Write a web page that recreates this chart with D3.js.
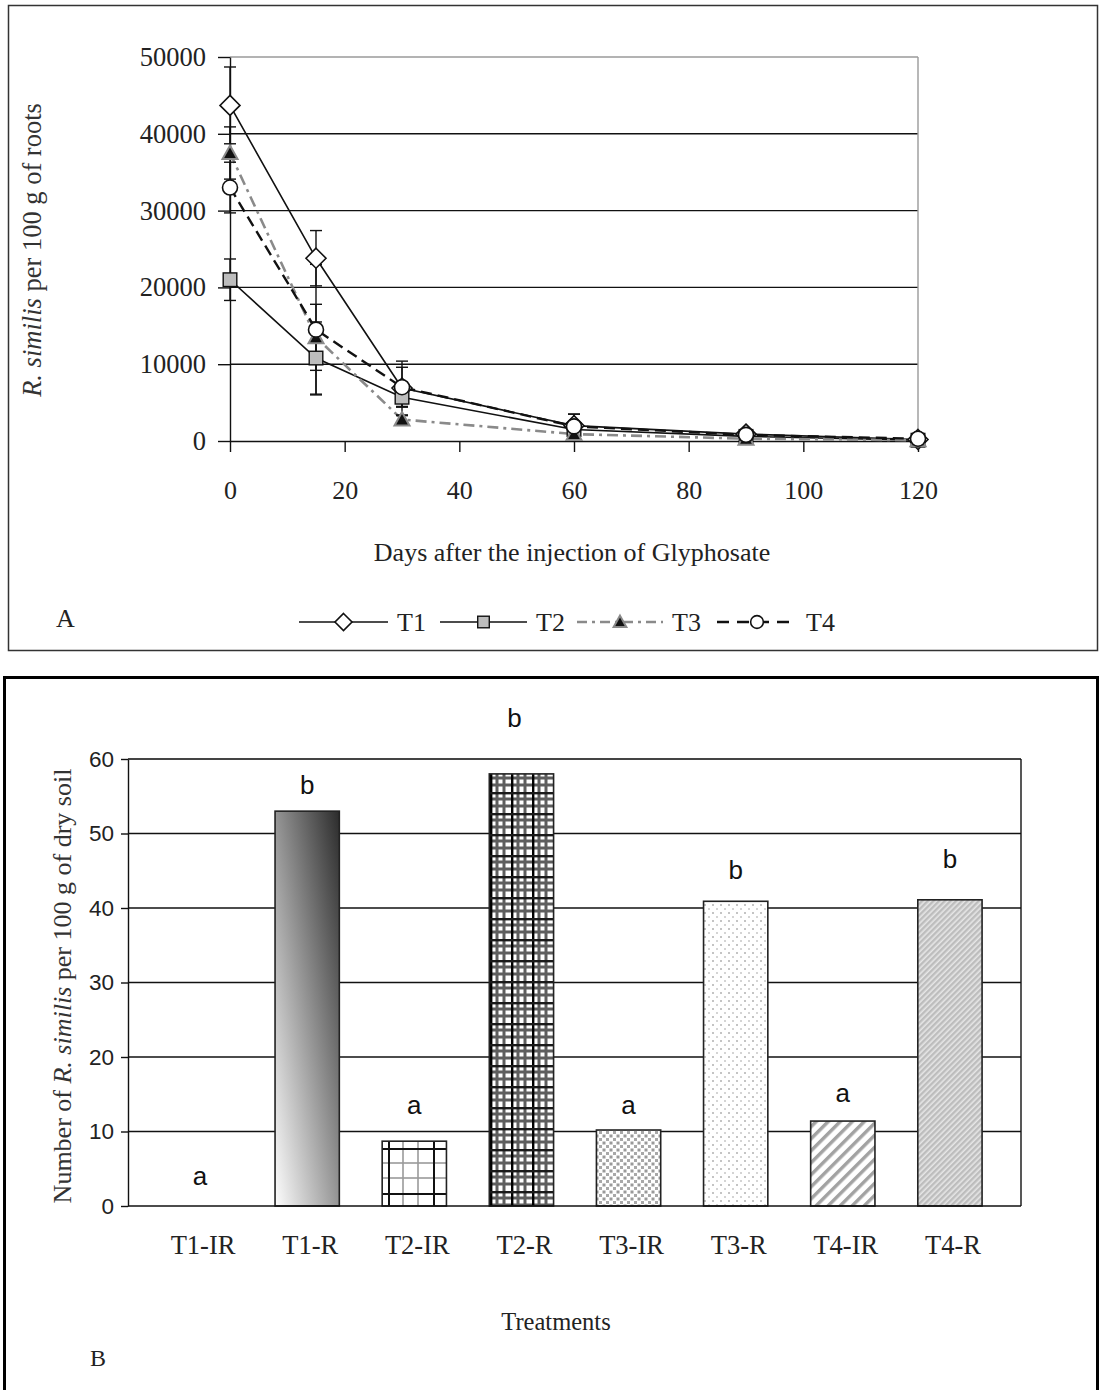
<!DOCTYPE html>
<html><head><meta charset="utf-8">
<script src="https://cdn.jsdelivr.net/npm/d3@7"></script>
<style>body{margin:0;background:#fff} svg{display:block}</style>
</head><body><svg id="c" width="1100" height="1390"></svg>
<script>
// ---------- Panel A data ----------
const days = [0, 15, 30, 60, 90, 120];
const seriesNames = ["T1", "T2", "T3", "T4"];
const t1Values = [43700, 23800, 6900, 2000, 900, 200];
const t2Values = [21000, 10800, 5700, 1500, 600, 100];
const t3Values = [37500, 13500, 2800, 900, 300, 100];
const t4Values = [33000, 14500, 7000, 1900, 800, 300];
const t1Err = [5000, 3600, 3500, 1500, 400, 100];
const t2Err = [2700, 4700, 1200, 500, 300, 100];
const t3Err = [3400, 4300, 500, 300, 200, 50];
const t4Err = [3300, 8500, 2600, 1600, 500, 200];
const yTicksA = [0, 10000, 20000, 30000, 40000, 50000];
const xTicksA = [0, 20, 40, 60, 80, 100, 120];

// ---------- Panel B data ----------
const treatments = ["T1-IR", "T1-R", "T2-IR", "T2-R", "T3-IR", "T3-R", "T4-IR", "T4-R"];
const countsB = [0, 53, 8.7, 58, 10.2, 40.9, 11.4, 41.1];
const sigLetters = ["a", "b", "a", "b", "a", "b", "a", "b"];
const sigLevels = [2.8, 55.3, 12.4, 64.3, 12.4, 43.9, 13.9, 45.4];
const yTicksB = [0, 10, 20, 30, 40, 50, 60];

const svg = d3.select("#c");
const serif = "'Liberation Serif','Times New Roman',serif";
const sans = "'Liberation Sans',Arial,sans-serif";

// ---------- defs: patterns ----------
const defs = svg.append("defs");
const g1 = defs.append("linearGradient").attr("id", "gradT1R")
  .attr("x1", 0).attr("y1", 1).attr("x2", 1).attr("y2", 0);
g1.append("stop").attr("offset", "0%").attr("stop-color", "#fdfdfd");
g1.append("stop").attr("offset", "100%").attr("stop-color", "#2c2c2c");

// T2-IR big grid
let p = defs.append("pattern").attr("id", "pT2IR").attr("patternUnits", "userSpaceOnUse")
  .attr("width", 45).attr("height", 45).attr("x", 388).attr("y", 1148);
p.append("rect").attr("width", 45).attr("height", 45).attr("fill", "#fff");
[15, 30].forEach(v => {
  p.append("rect").attr("x", v - 0.8).attr("y", 0).attr("width", 1.6).attr("height", 45).attr("fill", "#9a9a9a");
  p.append("rect").attr("x", 0).attr("y", v - 0.8).attr("width", 45).attr("height", 1.6).attr("fill", "#9a9a9a");
});
p.append("rect").attr("x", 0).attr("y", 0).attr("width", 2).attr("height", 45).attr("fill", "#111");
p.append("rect").attr("x", 0).attr("y", 0).attr("width", 45).attr("height", 2).attr("fill", "#111");

// T2-R small grid
p = defs.append("pattern").attr("id", "pT2R").attr("patternUnits", "userSpaceOnUse")
  .attr("width", 21).attr("height", 21).attr("x", 490).attr("y", 771);
p.append("rect").attr("width", 21).attr("height", 21).attr("fill", "#fff");
[7, 14].forEach(v => {
  p.append("rect").attr("x", v - 1.5).attr("y", 0).attr("width", 3).attr("height", 21).attr("fill", "#5e5e5e");
  p.append("rect").attr("x", 0).attr("y", v - 1.5).attr("width", 21).attr("height", 3).attr("fill", "#5e5e5e");
});
p.append("rect").attr("x", 0).attr("y", 0).attr("width", 2.4).attr("height", 21).attr("fill", "#000");
p.append("rect").attr("x", 0).attr("y", 0).attr("width", 21).attr("height", 2.4).attr("fill", "#1a1a1a");

// T3-IR dense dots
p = defs.append("pattern").attr("id", "pT3IR").attr("patternUnits", "userSpaceOnUse")
  .attr("width", 7).attr("height", 7);
p.append("rect").attr("width", 7).attr("height", 7).attr("fill", "#fff");
p.append("rect").attr("x", 0.5).attr("y", 0.5).attr("width", 3).attr("height", 3).attr("fill", "#9a9a9a");
p.append("rect").attr("x", 4).attr("y", 4).attr("width", 3).attr("height", 3).attr("fill", "#a8a8a8");

// T3-R sparse light dots
p = defs.append("pattern").attr("id", "pT3R").attr("patternUnits", "userSpaceOnUse")
  .attr("width", 8).attr("height", 8);
p.append("rect").attr("width", 8).attr("height", 8).attr("fill", "#fff");
p.append("rect").attr("x", 0).attr("y", 0).attr("width", 2).attr("height", 2).attr("fill", "#c4c4c4");
p.append("rect").attr("x", 4).attr("y", 4).attr("width", 2).attr("height", 2).attr("fill", "#d4d4d4");

// T4-IR wide diagonal stripes
p = defs.append("pattern").attr("id", "pT4IR").attr("patternUnits", "userSpaceOnUse")
  .attr("width", 8.5).attr("height", 8.5).attr("patternTransform", "rotate(45)");
p.append("rect").attr("width", 8.5).attr("height", 8.5).attr("fill", "#fff");
p.append("rect").attr("x", 0).attr("width", 3.4).attr("height", 8.5).attr("fill", "#a2a2a2");

// T4-R fine diagonal stripes
p = defs.append("pattern").attr("id", "pT4R").attr("patternUnits", "userSpaceOnUse")
  .attr("width", 4).attr("height", 4).attr("patternTransform", "rotate(45)");
p.append("rect").attr("width", 4).attr("height", 4).attr("fill", "#e6e6e6");
p.append("rect").attr("x", 0).attr("width", 2.4).attr("height", 4).attr("fill", "#bdbdbd");

const barFills = ["#fff", "url(#gradT1R)", "url(#pT2IR)", "url(#pT2R)", "url(#pT3IR)", "url(#pT3R)", "url(#pT4IR)", "url(#pT4R)"];

// ---------- frames ----------
svg.append("rect").attr("x", 8.5).attr("y", 5.5).attr("width", 1089).attr("height", 645)
  .attr("fill", "none").attr("stroke", "#333").attr("stroke-width", 1.5);
svg.append("rect").attr("x", 4.5).attr("y", 677.5).attr("width", 1093).attr("height", 716)
  .attr("fill", "none").attr("stroke", "#000").attr("stroke-width", 3);

// ================= Panel A =================
const xA = d3.scaleLinear().domain([0, 120]).range([230, 918]);
const yA = d3.scaleLinear().domain([0, 50000]).range([441, 57]);
const gA = svg.append("g");

gA.selectAll("line.grid").data(yTicksA.filter(v => v > 0)).join("line")
  .attr("x1", xA(0)).attr("x2", xA(120)).attr("y1", d => yA(d)).attr("y2", d => yA(d))
  .attr("stroke", d => d === 50000 ? "#9a9a9a" : "#111").attr("stroke-width", 1.4);
gA.append("line").attr("x1", xA(120)).attr("x2", xA(120)).attr("y1", yA(50000)).attr("y2", yA(0))
  .attr("stroke", "#9a9a9a").attr("stroke-width", 1.4);

const axL = gA.append("g").attr("transform", `translate(${xA(0)},0)`)
  .call(d3.axisLeft(yA).tickValues(yTicksA).tickFormat(d3.format("d")).tickSize(12).tickSizeOuter(0).tickPadding(12));
const axB = gA.append("g").attr("transform", `translate(0,${yA(0)})`)
  .call(d3.axisBottom(xA).tickValues(xTicksA).tickFormat(d3.format("d")).tickSize(11).tickSizeOuter(0).tickPadding(29));
[axL, axB].forEach(a => {
  a.selectAll("path,line").attr("stroke", "#111").attr("stroke-width", 1.4);
  a.selectAll("text").attr("font-family", serif).attr("font-size", 26).attr("fill", "#222");
});
axL.selectAll("text").attr("font-size", 26.5);

gA.append("text").attr("x", 572).attr("y", 561).attr("text-anchor", "middle")
  .attr("font-family", serif).attr("font-size", 26).attr("fill", "#222")
  .text("Days after the injection of Glyphosate");
const yl = gA.append("text").attr("transform", "translate(41,250) rotate(-90)").attr("text-anchor", "middle")
  .attr("font-family", serif).attr("font-size", 26.5).attr("fill", "#333");
yl.append("tspan").attr("font-style", "italic").text("R. similis");
yl.append("tspan").text(" per 100 g of roots");
gA.append("text").attr("x", 56).attr("y", 627).attr("font-family", serif).attr("font-size", 26).attr("fill", "#222").text("A");

const seriesA = [
  { name: "T1", values: t1Values, err: t1Err, stroke: "#111", width: 1.6, dash: null, marker: "diamond" },
  { name: "T2", values: t2Values, err: t2Err, stroke: "#111", width: 1.6, dash: null, marker: "square" },
  { name: "T3", values: t3Values, err: t3Err, stroke: "#8a8a8a", width: 2.6, dash: "11,5,3,5", marker: "triangle" },
  { name: "T4", values: t4Values, err: t4Err, stroke: "#111", width: 2.4, dash: "11,6", marker: "circle" }
];

function drawMarker(g, type, x, y, s) {
  if (type === "diamond") {
    const r = 10 * s;
    g.append("path").attr("d", `M${x},${y - r}L${x + r},${y}L${x},${y + r}L${x - r},${y}Z`)
      .attr("fill", "#fff").attr("stroke", "#111").attr("stroke-width", 1.6);
  } else if (type === "square") {
    const h = 6.8 * s;
    g.append("rect").attr("x", x - h).attr("y", y - h).attr("width", 2 * h).attr("height", 2 * h)
      .attr("fill", "#bdbdbd").attr("stroke", "#111").attr("stroke-width", 1.4);
  } else if (type === "triangle") {
    const h = 7.5 * s;
    g.append("path").attr("d", `M${x},${y - h}L${x + h},${y + h * 0.8}L${x - h},${y + h * 0.8}Z`)
      .attr("fill", "#111").attr("stroke", "#8a8a8a").attr("stroke-width", 2);
  } else {
    g.append("circle").attr("cx", x).attr("cy", y).attr("r", 7.5 * s)
      .attr("fill", "#fff").attr("stroke", "#111").attr("stroke-width", 1.6);
  }
}

const line = d3.line().x((d, i) => xA(days[i])).y(d => yA(d));
seriesA.forEach(s => {
  gA.append("path").datum(s.values).attr("d", line).attr("fill", "none")
    .attr("stroke", s.stroke).attr("stroke-width", s.width)
    .attr("stroke-dasharray", s.dash);
});
seriesA.forEach(s => {
  s.values.forEach((v, i) => {
    const x = xA(days[i]), y0 = yA(v + s.err[i]), y1 = yA(Math.max(0, v - s.err[i]));
    gA.append("line").attr("x1", x).attr("x2", x).attr("y1", y0).attr("y2", y1).attr("stroke", "#111").attr("stroke-width", 1.4);
    [y0, y1].forEach(yy => gA.append("line").attr("x1", x - 6).attr("x2", x + 6).attr("y1", yy).attr("y2", yy)
      .attr("stroke", "#111").attr("stroke-width", 1.4));
  });
});
seriesA.forEach(s => {
  s.values.forEach((v, i) => drawMarker(gA, s.marker, xA(days[i]), yA(v), 1));
});

// legend
const legendX = [299, 440, 577, 717];
const legendW = [89, 87, 86, 80];
const lg = gA.append("g");
seriesA.forEach((s, i) => {
  const x0 = legendX[i], x1 = x0 + legendW[i], ly = 622;
  lg.append("line").attr("x1", x0).attr("x2", x1).attr("y1", ly).attr("y2", ly)
    .attr("stroke", s.stroke).attr("stroke-width", s.width)
    .attr("stroke-dasharray", s.dash ? (s.name === "T3" ? "10,5,3,5" : "12,8") : null);
  drawMarker(lg, s.marker, (x0 + x1) / 2, ly, 0.85);
  lg.append("text").attr("x", x1 + 9).attr("y", ly + 9).attr("font-family", serif).attr("font-size", 26)
    .attr("fill", "#222").text(s.name);
});

// ================= Panel B =================
const xB = d3.scaleBand().domain(treatments).range([146.5, 1003.5]).paddingInner(0.4).paddingOuter(0.2);
const yB = d3.scaleLinear().domain([0, 60]).range([1206, 759]);
const gB = svg.append("g");

gB.selectAll("line.grid").data(yTicksB.filter(v => v > 0)).join("line")
  .attr("x1", 128).attr("x2", 1021).attr("y1", d => yB(d)).attr("y2", d => yB(d))
  .attr("stroke", d => d === 60 ? "#444" : "#111").attr("stroke-width", d => d === 60 ? 2 : 1.4);
gB.append("line").attr("x1", 1021).attr("x2", 1021).attr("y1", yB(60)).attr("y2", yB(0))
  .attr("stroke", "#111").attr("stroke-width", 1.4);

gB.selectAll("rect.bar").data(treatments).join("rect")
  .attr("x", d => xB(d)).attr("width", xB.bandwidth())
  .attr("y", (d, i) => yB(countsB[i])).attr("height", (d, i) => yB(0) - yB(countsB[i]))
  .attr("fill", (d, i) => barFills[i])
  .attr("stroke", (d, i) => countsB[i] > 0 ? "#222" : "none").attr("stroke-width", 1.6);

const axLB = gB.append("g").attr("transform", "translate(128,0)")
  .call(d3.axisLeft(yB).tickValues(yTicksB).tickSize(7).tickSizeOuter(0).tickPadding(7));
axLB.selectAll("path,line").attr("stroke", "#111").attr("stroke-width", 1.4);
axLB.selectAll("text").attr("font-family", sans).attr("font-size", 22.5).attr("fill", "#222");
gB.append("line").attr("x1", 128).attr("x2", 1021).attr("y1", yB(0)).attr("y2", yB(0))
  .attr("stroke", "#111").attr("stroke-width", 1.6);

gB.selectAll("text.xl").data(treatments).join("text")
  .attr("x", d => xB(d) + xB.bandwidth() / 2 + 3).attr("y", 1254).attr("text-anchor", "middle")
  .attr("font-family", serif).attr("font-size", 26.5).attr("fill", "#222").text(d => d);

gB.selectAll("text.sig").data(treatments).join("text")
  .attr("x", (d, i) => xB(d) + xB.bandwidth() / 2 - (i === 3 ? 7 : 0)).attr("y", (d, i) => yB(sigLevels[i]))
  .attr("text-anchor", "middle").attr("font-family", sans).attr("font-size", 26).attr("fill", "#111")
  .text((d, i) => sigLetters[i]);

const ylB = gB.append("text").attr("transform", "translate(71,986) rotate(-90)").attr("text-anchor", "middle")
  .attr("font-family", serif).attr("font-size", 26).attr("fill", "#333");
ylB.append("tspan").text("Number of ");
ylB.append("tspan").attr("font-style", "italic").text("R. similis");
ylB.append("tspan").text(" per 100 g of dry soil");

gB.append("text").attr("x", 556).attr("y", 1330).attr("text-anchor", "middle")
  .attr("font-family", serif).attr("font-size", 24.5).attr("fill", "#222").text("Treatments");
gB.append("text").attr("x", 90).attr("y", 1366).attr("font-family", serif).attr("font-size", 24)
  .attr("fill", "#222").text("B");
</script></body></html>
